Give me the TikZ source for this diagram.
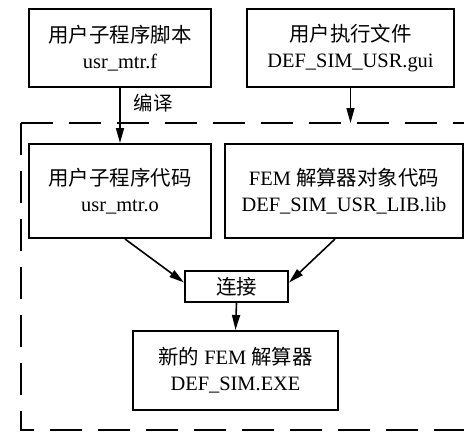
\documentclass[tikz,border=0pt]{standalone}
\usepackage{fontspec}
\setmainfont{Liberation Serif}
\newfontfamily\cjk{Noto Sans CJK SC}
\usetikzlibrary{arrows.meta}
\begin{document}
\begin{tikzpicture}[x=1bp,y=1bp,
  box/.style={draw,line width=2bp,align=center,inner sep=0pt,font=\fontsize{20.5}{26}\selectfont},
  arr/.style={line width=1.6bp,-{Triangle[length=15bp,width=8bp]}},
  dashbox/.style={line width=2bp,dash pattern=on 32bp off 16bp}]
\useasboundingbox (0,0) rectangle (464,431);
\draw[dashbox] (21,308) -- (21,1) -- (480,1);
\draw[dashbox] (21,308) -- (480,308);
\node[box,minimum width=182bp,minimum height=78bp] (b1) at (120,383) {{\cjk 用户子程序脚本}\\usr\_mtr.f};
\node[box,minimum width=207bp,minimum height=78bp] (b2) at (350.5,383) {{\cjk 用户执行文件}\\DEF\_SIM\_USR.gui};
\node[box,minimum width=182bp,minimum height=94bp] (b3) at (120,240) {{\cjk 用户子程序代码}\\usr\_mtr.o};
\node[box,minimum width=238bp,minimum height=94bp] (b4) at (344,240) {FEM {\cjk 解算器对象代码}\\DEF\_SIM\_USR\_LIB.lib};
\node[box,minimum width=103bp,minimum height=31bp] (lj) at (236.5,144.5) {\cjk 连接};
\node[box,minimum width=205bp,minimum height=79bp] (fin) at (235.5,60.5) {{\cjk 新的} FEM {\cjk 解算器}\\DEF\_SIM.EXE};
\node[font=\fontsize{19.5}{22}\selectfont\cjk] (lab) at (153,328) {编译};
\coordinate (e2) at (350.5,308);
\draw[arr] (b1.south) -- (b3.north);
\draw[arr] (b2.south) -- (e2);
\draw[arr] ([xshift=5bp]b3.south) -- ([yshift=4bp]lj.west);
\draw[arr] ([xshift=-9bp]b4.south) -- ([yshift=4bp]lj.east);
\draw[arr] (lj.south) -- (fin.north);
\end{tikzpicture}
\end{document}
